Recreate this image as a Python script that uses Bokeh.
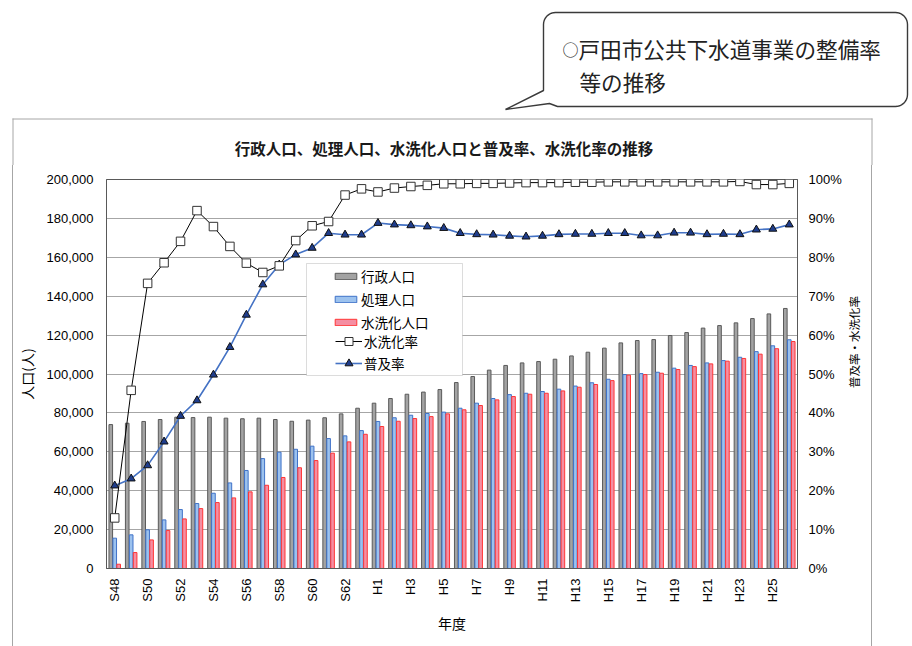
import math
import numpy as np
from bokeh.plotting import figure
from bokeh.layouts import column, row
from bokeh.models import (ColumnDataSource, Range1d, LinearAxis, FixedTicker,
                          NumeralTickFormatter, PrintfTickFormatter, Legend, LegendItem,
                          BoxAnnotation, Spacer)
from bokeh.transform import dodge
from bokeh.core.properties import value
from bokeh.embed import file_html
from bokeh.resources import INLINE

# ---------------- data ----------------
years = ["S48", "S49", "S50", "S51", "S52", "S53", "S54", "S55", "S56", "S57",
         "S58", "S59", "S60", "S61", "S62", "S63", "H1", "H2", "H3", "H4",
         "H5", "H6", "H7", "H8", "H9", "H10", "H11", "H12", "H13", "H14",
         "H15", "H16", "H17", "H18", "H19", "H20", "H21", "H22", "H23", "H24",
         "H25", "H26"]

gyousei_pop = [74000, 74700, 75600, 76600, 77800, 77600, 77800, 77300, 77000, 77300,
               76600, 75700, 76300, 77500, 79500, 82400, 85000, 87400, 89600, 90700,
               92000, 95600, 98700, 102000, 104400, 105700, 106400, 107600, 109300, 111200,
               113300, 116000, 117200, 117700, 119800, 121300, 123600, 124900, 126300, 128500,
               130900, 133700]

shori_pop = [15600, 17300, 19900, 25000, 30300, 33400, 38700, 44000, 50400, 56500,
             59800, 61300, 62900, 66800, 68200, 70900, 75600, 77500, 78800, 79700,
             80400, 82400, 85000, 87400, 89400, 90100, 91000, 92200, 93800, 95500,
             97300, 99700, 100200, 100900, 103000, 104400, 105700, 106900, 108600, 111500,
             114500, 117600]

suisenka_pop = [2200, 8200, 14700, 19500, 25500, 30800, 33900, 36300, 39400, 42800,
                46800, 51800, 55500, 59300, 65100, 69000, 73000, 75700, 77100, 78100,
                79500, 81600, 83800, 86700, 88400, 89600, 90100, 91300, 93200, 94600,
                96600, 99400, 99700, 100400, 102300, 103800, 105200, 106600, 108000, 110200,
                113000, 116700]

suisenka_rate = [13.0, 45.8, 73.3, 78.6, 84.1, 92.0, 87.9, 82.8, 78.5, 76.1,
                 77.8, 84.3, 88.1, 89.2, 96.0, 97.6, 96.8, 97.8, 98.2, 98.5,
                 98.9, 98.9, 99.0, 99.0, 99.1, 99.2, 99.2, 99.2, 99.3, 99.3,
                 99.4, 99.4, 99.4, 99.4, 99.4, 99.4, 99.4, 99.4, 99.5, 98.7,
                 98.7, 99.0]

fukyu_rate = [21.3, 23.1, 26.5, 32.6, 39.2, 43.2, 49.8, 56.9, 65.2, 73.0,
              78.1, 80.7, 82.4, 86.2, 85.8, 85.8, 88.8, 88.4, 88.2, 87.9,
              87.5, 86.2, 85.9, 85.8, 85.5, 85.3, 85.5, 85.9, 86.0, 86.0,
              86.2, 86.2, 85.6, 85.6, 86.3, 86.3, 85.9, 86.0, 85.9, 87.1,
              87.3, 88.4]

pop_ticks = [0, 20000, 40000, 60000, 80000, 100000, 120000, 140000, 160000, 180000, 200000]
pct_ticks = [0, 10, 20, 30, 40, 50, 60, 70, 80, 90, 100]

series_names = ["行政人口", "処理人口", "水洗化人口", "水洗化率", "普及率"]
chart_title = "行政人口、処理人口、水洗化人口と普及率、水洗化率の推移"
y_label = "人口(人)"
y2_label = "普及率・水洗化率"
x_label = "年度"
bubble_mark = "○"
bubble_line1 = "戸田市公共下水道事業の整備率"
bubble_line2 = "等の推移"

# ---------------- layout constants (page pixels) ----------------
W, H = 912, 646
TOP_H = 165               # height of the strip holding callout + chart title
BOX_T = 118               # top line of chart border box
BOX_L, BOX_R = 12, 871    # chart border box (x of the 1px lines)
FL, FR, FT, FB = 106, 797, 179, 568   # plot frame on the page
MAIN_L, MAIN_R = 13, 846  # main figure span
BORDER_COL = "#a6a6a6"

JP = "Noto Sans CJK JP"
NUM = "Liberation Sans"


def blank(w, h, xr, yr):
    f = figure(width=w, height=h, output_backend="svg", toolbar_location=None,
               x_range=xr, y_range=yr, x_axis_type=None, y_axis_type=None,
               min_border=0)
    f.outline_line_color = None
    f.background_fill_color = "white"
    f.border_fill_color = "white"
    return f


# ---------------- top strip: callout + border top + chart title ----------------
pb = blank(W, TOP_H, Range1d(0, W), Range1d(TOP_H, 0))
pb.line([BOX_L, BOX_R + 1], [BOX_T + 0.5, BOX_T + 0.5], line_color=BORDER_COL, line_width=1)
pb.line([BOX_L + 0.5, BOX_L + 0.5], [BOX_T, TOP_H], line_color=BORDER_COL, line_width=1)
pb.line([BOX_R + 0.5, BOX_R + 0.5], [BOX_T, TOP_H], line_color=BORDER_COL, line_width=1)

x0, x1, y0, y1, r = 543, 907, 12, 106, 12


def arc(cx, cy, a0, a1):
    ts = np.linspace(a0, a1, 10)
    return list(cx + r * np.cos(ts)), list(cy + r * np.sin(ts))


bx, by = [505, 543, 543], [109, 90, y0 + r]
for (cx, cy, a0, a1) in [(x0 + r, y0 + r, math.pi, 1.5 * math.pi),
                         (x1 - r, y0 + r, 1.5 * math.pi, 2 * math.pi),
                         (x1 - r, y1 - r, 0, 0.5 * math.pi)]:
    ax, ay = arc(cx, cy, a0, a1)
    bx += ax
    by += ay
bx += [557, 549]
by += [y1, 103]
pb.patch(bx, by, fill_color="white", line_color="#3a3a3a", line_width=1.4)
pb.text(x=[562], y=[48], text=[bubble_mark], text_font=value(JP), text_font_size="16px",
        text_color="#222222", text_align="left", text_baseline="middle")
pb.text(x=[578, 579], y=[48, 81], text=[bubble_line1, bubble_line2], text_font=value(JP),
        text_font_size="21.6px", text_color="#222222", text_align="left",
        text_baseline="middle")
pb.text(x=[443.5], y=[147], text=[chart_title], text_font=value(JP),
        text_font_size="15.5px", text_font_style="bold", text_color="#1a1a1a",
        text_align="center", text_baseline="middle")

# ---------------- main chart ----------------
MW = MAIN_R - MAIN_L
MH = H - TOP_H

src = ColumnDataSource(dict(
    x=list(range(len(years))),
    gyousei=gyousei_pop, shori=shori_pop, suisen=suisenka_pop,
    srate=suisenka_rate, frate=fukyu_rate,
))

p = figure(width=MW, height=MH, output_backend="svg", toolbar_location=None,
           x_range=Range1d(-0.5, len(years) - 0.5), y_range=Range1d(0, 200000),
           min_border_left=FL - MAIN_L, min_border_right=MAIN_R - FR,
           min_border_top=FT - TOP_H, min_border_bottom=H - FB)
p.extra_y_ranges = {"pct": Range1d(0, 100)}
p.background_fill_color = "white"
p.border_fill_color = "white"
p.outline_line_color = "#595959"
p.outline_line_width = 1

# grid
p.xgrid.visible = False
p.ygrid.ticker = FixedTicker(ticks=pop_ticks)
p.ygrid.grid_line_color = "#a6a6a6"
p.ygrid.grid_line_width = 1

# bars
bw = 0.22
r_g = p.vbar(x=dodge("x", -0.24), top="gyousei", width=bw, source=src,
             fill_color="#a3a3a3", line_color="#5a5a5a", line_width=1)
r_b = p.vbar(x=dodge("x", 0.0), top="shori", width=bw, source=src,
             fill_color="#9cc2ee", line_color="#3f72c8", line_width=1)
r_r = p.vbar(x=dodge("x", 0.24), top="suisen", width=bw, source=src,
             fill_color="#f58ea2", line_color="#ff3535", line_width=1)

# lines
l_f = p.line("x", "frate", source=src, y_range_name="pct",
             line_color="#4472c4", line_width=1.6)
m_f = p.scatter("x", "frate", source=src, y_range_name="pct", marker="triangle",
                size=8, fill_color="#1f3d8c", line_color="#111111", line_width=1)
l_s = p.line("x", "srate", source=src, y_range_name="pct",
             line_color="#000000", line_width=1)
m_s = p.scatter("x", "srate", source=src, y_range_name="pct", marker="square",
                size=8.5, fill_color="white", line_color="#333333", line_width=1)

# axes
xa = p.xaxis[0]
xa.ticker = FixedTicker(ticks=list(range(0, len(years), 2)))
xa.major_label_overrides = {i: years[i] for i in range(0, len(years), 2)}
xa.major_label_orientation = math.pi / 2
xa.major_label_text_font = NUM
xa.major_label_text_font_size = "13px"
xa.major_label_text_color = "#000000"
xa.major_tick_line_color = None
xa.major_tick_out = 0
xa.major_tick_in = 0
xa.minor_tick_line_color = None
xa.major_label_standoff = 10
xa.axis_line_color = "#595959"
xa.axis_label = x_label
xa.axis_label_text_font = JP
xa.axis_label_text_font_size = "14px"
xa.axis_label_text_font_style = "normal"
xa.axis_label_text_color = "#000000"
xa.axis_label_standoff = 8

ya = p.yaxis[0]
ya.ticker = FixedTicker(ticks=pop_ticks)
ya.formatter = NumeralTickFormatter(format="0,0")
ya.major_label_text_font = NUM
ya.major_label_text_font_size = "13px"
ya.major_label_text_color = "#000000"
ya.major_tick_line_color = None
ya.major_tick_out = 0
ya.major_tick_in = 0
ya.minor_tick_line_color = None
ya.major_label_standoff = 13
ya.axis_line_color = "#595959"
ya.axis_label = y_label
ya.axis_label_text_font = JP
ya.axis_label_text_font_size = "14px"
ya.axis_label_text_font_style = "normal"
ya.axis_label_text_color = "#000000"
ya.axis_label_standoff = 7

ra = LinearAxis(y_range_name="pct", ticker=FixedTicker(ticks=pct_ticks),
                formatter=PrintfTickFormatter(format="%d%%"))
ra.major_label_text_font = NUM
ra.major_label_text_font_size = "13px"
ra.major_label_text_color = "#000000"
ra.major_tick_line_color = None
ra.major_tick_out = 0
ra.major_tick_in = 0
ra.minor_tick_line_color = None
ra.major_label_standoff = 11
ra.axis_line_color = "#595959"
p.add_layout(ra, "right")


def sx(cx):
    return cx - FL


def sy(cy):
    return FB - cy


# legend box
p.add_layout(BoxAnnotation(left=sx(306), right=sx(462), top=sy(263), bottom=sy(375),
                           left_units="screen", right_units="screen",
                           top_units="screen", bottom_units="screen",
                           fill_color="white", fill_alpha=1,
                           line_color="#8c8c8c", line_width=1))

leg1 = Legend(items=[LegendItem(label=series_names[0], renderers=[r_g]),
                     LegendItem(label=series_names[1], renderers=[r_b]),
                     LegendItem(label=series_names[2], renderers=[r_r])],
              location=(sx(335) - 3, sy(263.2) - (3 + 19 * 3 + 3 * 2 + 3)),
              padding=3, spacing=3, label_height=19, glyph_height=8, glyph_width=27,
              label_standoff=2, label_text_font=JP, label_text_font_size="13.5px",
              label_text_color="#000000",
              border_line_color=None, background_fill_alpha=0)
leg2 = Legend(items=[LegendItem(label=series_names[3], renderers=[l_s, m_s]),
                     LegendItem(label=series_names[4], renderers=[l_f, m_f])],
              location=(sx(335), sy(331) - 42),
              padding=0, spacing=2, label_height=20, glyph_height=20, glyph_width=27,
              label_standoff=2, label_text_font=JP, label_text_font_size="13.5px",
              label_text_color="#000000",
              border_line_color=None, background_fill_alpha=0)
p.add_layout(leg1)
p.add_layout(leg2)

# ---------------- right strip: secondary axis title ----------------
RW = BOX_R - MAIN_R
pr = blank(RW, MH, Range1d(0, RW), Range1d(0, MH))
pr.text(x=[853 - MAIN_R], y=[H - 366], text=[y2_label], angle=math.pi / 2,
        text_font=value(JP), text_font_size="11.5px", text_color="#000000",
        text_align="center", text_baseline="middle")

# ---------------- border lines of the chart box ----------------
gap_l = Spacer(width=BOX_L, height=MH)
edge_l = Spacer(width=1, height=MH, styles={"background-color": BORDER_COL})
edge_r = Spacer(width=1, height=MH, styles={"background-color": BORDER_COL})

layout = column(pb, row(gap_l, edge_l, p, pr, edge_r))

open("out.html", "w").write(file_html(layout, INLINE))
